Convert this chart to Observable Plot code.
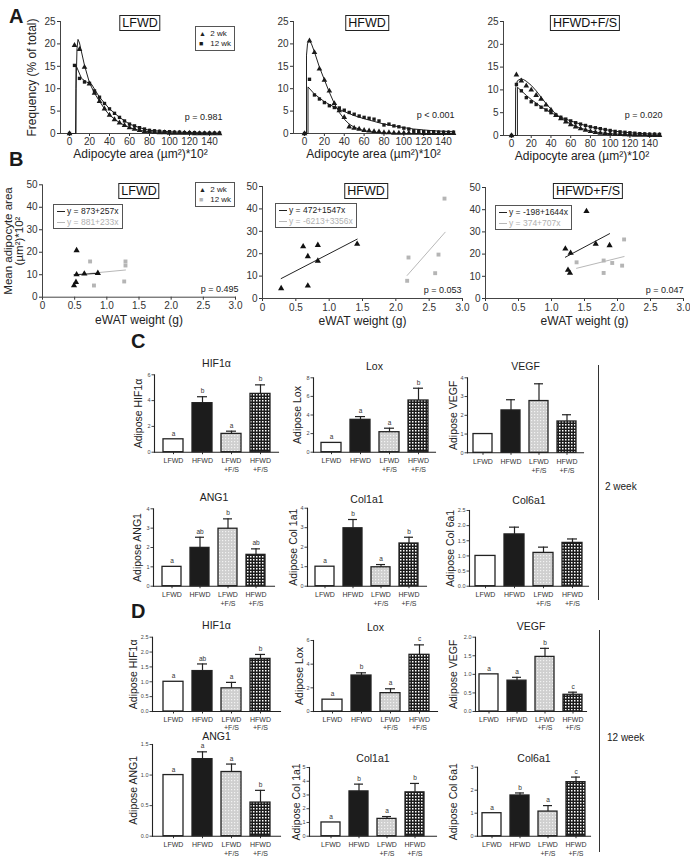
<!DOCTYPE html>
<html>
<head>
<meta charset="utf-8">
<script src="https://cdn.jsdelivr.net/npm/d3@7"></script>
<script src="https://cdn.jsdelivr.net/npm/@observablehq/plot@0.6"></script>
<style>
  body { margin: 0; background: #fff; font-family: "Liberation Sans", Arial, sans-serif; }
  #page { position: relative; width: 690px; height: 859px; overflow: hidden; background: #fff; }
  .ov { position: absolute; white-space: nowrap; color: #1a1a1a; line-height: 1; }
  .tbox { position: absolute; border: 1px solid #222; font-size: 12.5px; padding: 1px 2px 1px 2px; transform: translateX(-50%); color: #111; line-height: 12px; background: #fff; }
  .lbox { position: absolute; border: 1px solid #555; font-size: 8px; padding: 2px 3px; line-height: 9.5px; color: #222; background: #fff; }
  .vline { position: absolute; width: 1px; background: #333; }
</style>
</head>
<body>
<svg width="0" height="0" style="position:absolute">
  <defs>
    <pattern id="dots" width="3" height="3" patternUnits="userSpaceOnUse">
      <rect width="3" height="3" fill="#cfcfcf"/>
      <rect x="0" y="0" width="1.2" height="1.2" fill="#f2f2f2"/>
    </pattern>
    <pattern id="check" width="3" height="3" patternUnits="userSpaceOnUse">
      <rect width="3" height="3" fill="#1c1c1c"/>
      <rect x="1" y="1" width="1.5" height="1.5" fill="#ffffff"/>
    </pattern>
  </defs>
</svg>
<div id="page"></div>
<script>
// ---------------- DATA ----------------
// Panel A: size-distribution bins (x, 10^2 µm^2) and frequencies (% of total)
const aBins = [0,5,10,15,20,25,30,35,40,45,50,55,60,65,70,75,80,85,90,95,100,105,110,115,120,125,130,135,140,145,150];
const aLF2  = [0,19.7,18.8,14.8,11.1,9.0,7.2,5.5,4.1,3.1,2.4,1.8,1.3,1.0,0.7,0.5,0.4,0.3,0.2,0.2,0.1,0.1,0.1,0.1,0.1,0,0,0,0,0,0];
const aLF12 = [0,15.2,12.3,11.5,11.2,9.5,8.1,6.7,5.5,4.5,3.6,2.8,2.1,1.7,1.3,1.0,0.7,0.6,0.5,0.4,0.4,0.3,0.3,0.2,0.2,0.2,0.1,0.1,0.1,0.1,0.1];
const aHF2  = [0,20.7,18.1,14.4,11.9,9.5,6.7,5.1,3.6,1.5,1.2,1.0,0.7,0.6,0.45,0.4,0.2,0.2,0.1,0.1,0.1,0.1,0.1,0.1,0.05,0.05,0.05,0.05,0.05,0.05,0.05];
const aHF12 = [0,12.1,8.6,7.7,6.9,6.2,5.8,5.7,5.2,4.7,4.3,3.9,3.6,3.4,3.2,2.8,1.9,2.1,1.7,1.5,1.2,1.0,0.6,0.5,0.4,0.4,0.4,0.3,0.3,0.3,0.3];
const aFS2  = [0,13.3,12.0,10.9,10.0,8.8,8.0,6.7,5.6,4.4,3.7,3.0,2.4,1.9,1.5,1.2,0.9,0.7,0.55,0.45,0.35,0.3,0.25,0.2,0.15,0.1,0.1,0.1,0.05,0.05,0.05];
const aFS12 = [0,11.2,9.8,8.3,7.4,6.8,6.2,5.6,5.0,4.5,4.0,3.6,3.2,2.8,2.5,2.2,1.9,1.7,1.5,1.3,1.1,0.9,0.8,0.7,0.6,0.5,0.4,0.35,0.3,0.3,0.25];
// fitted curves
const fLF2x  = [0,6,6.5,7.5,8.5,10,12,15,20,25,30,35,40,50,60,70,80,100,120,150];
const fLF2y  = [0,0,10,19,21,20.2,18.2,15.2,11.3,9.0,7.2,5.5,4.1,2.4,1.3,0.7,0.4,0.15,0.05,0];
const fLF12x = [0,6.5,6.5,12,17,22,30,40,50,60,70,80,100,120,150];
const fLF12y = [0,0,15.2,12.3,11.5,11.0,8.1,5.5,3.6,2.1,1.3,0.7,0.4,0.2,0.1];
const fHF2x  = [0,2,2,3,4.5,7,10,15,20,25,30,35,40,45,50,60,70,80,100,150];
const fHF2y  = [0,0,17.5,20,20.8,20,18.2,14.8,12,9.2,6.7,4.7,3.2,2.1,1.4,0.6,0.3,0.1,0,0];
const fHF12x = [0,3.5,3.5,10,20,30,40,50,60,70,80,90,100,110,120,130,140,150];
const fHF12y = [0,0,10.4,8.8,7.1,5.9,4.9,4.0,3.3,2.7,2.1,1.7,1.3,1.0,0.8,0.6,0.5,0.4];
const fFS2x  = [0,4,4.2,6,9,12,15,20,25,30,35,40,45,50,60,70,80,90,100,120,150];
const fFS2y  = [0,0,10.5,12,12.4,12.3,11.9,11.0,9.8,8.4,7.0,5.8,4.7,3.8,2.5,1.6,1.0,0.6,0.4,0.15,0.05];
const fFS12x = [0,6,6,10,15,20,25,30,40,50,60,70,80,90,100,110,120,130,140,150];
const fFS12y = [0,0,10.6,9.8,8.8,7.9,7.1,6.3,5.0,4.0,3.2,2.5,1.9,1.5,1.1,0.8,0.6,0.45,0.35,0.3];
const aXTicks = [0,20,40,60,80,100,120,140];
const aYTicks = [0,5,10,15,20,25];

// Panel B: eWAT weight (g) vs mean adipocyte area (10^2 µm^2)
const bLF2x = [0.49,0.52,0.53,0.53,0.65,0.86], bLF2y = [5.2,6.7,20.8,10.1,10.4,10.7];
const bLF12x = [0.74,0.80,1.27,1.29,1.29], bLF12y = [15.9,5.2,7.0,15.9,14.1];
const bHF2x = [0.28,0.61,0.68,0.68,0.83,0.83,1.42], bHF2y = [4.5,23.2,18.8,5.7,23.8,16.8,24.3];
const bHF12x = [2.19,2.17,2.59,2.64,2.73], bHF12y = [18.3,7.9,11.3,19.6,44.6];
const bFS2x = [1.21,1.29,1.25,1.28,1.53,1.67,1.88], bFS2y = [22.4,20.5,12.8,11.5,39.3,24.6,23.9];
const bFS12x = [1.38,1.79,1.79,1.92,2.07,2.10], bFS12y = [16.3,17.1,11.5,16.0,14.8,26.6];
// regression line end points
const bLFfit2x = [0.49,0.86], bLFfit2y = [10.0,10.6];
const bLFfit12x = [0.74,1.29], bLFfit12y = [10.6,12.1];
const bHFfit2x = [0.28,1.42], bHFfit2y = [8.9,26.5];
const bHFfit12x = [2.17,2.74], bHFfit12y = [10.3,29.6];
const bFSfit2x = [1.21,1.88], bFSfit2y = [18.6,29.2];
const bFSfit12x = [1.38,2.10], bFSfit12y = [13.6,18.9];
const bXTicks = [0,0.5,1,1.5,2,2.5,3];
const bYTicks = [0,10,20,30,40,50];
const bEq2 = ["y = 873+257x","y = 472+1547x","y = -198+1644x"];
const bEq12 = ["y = 881+233x","y = -6213+3356x","y = 374+707x"];

// Panels C and D: relative expression (mean, mean+SEM, letters)
const groups = ["LFWD","HFWD","LFWD+F/S","HFWD+F/S"];
const groupTicks = ["LFWD","HFWD","LFWD\n+F/S","HFWD\n+F/S"];
const cHif = [1.0,3.8,1.42,4.52],  cHifErr = [1.0,4.3,1.63,5.22],  cHifLet = ["a","b","a","b"];
const cLox = [1.0,3.48,2.15,5.56], cLoxErr = [1.0,3.83,2.58,6.88], cLoxLet = ["a","a","a","b"];
const cVegf = [1.0,2.26,2.76,1.67], cVegfErr = [1.0,2.83,3.68,2.03], cVegfLet = ["","","",""];
const cAng = [1.0,1.98,2.97,1.62], cAngErr = [1.0,2.53,3.48,1.93], cAngLet = ["a","ab","b","ab"];
const cCol1 = [1.0,2.97,0.97,2.19], cCol1Err = [1.0,3.42,1.11,2.51], cCol1Let = ["a","b","a","b"];
const cCol6 = [1.0,1.71,1.10,1.43], cCol6Err = [1.0,1.95,1.29,1.56], cCol6Let = ["","","",""];
const dHif = [1.0,1.36,0.78,1.77], dHifErr = [1.0,1.60,0.98,1.92], dHifLet = ["a","ab","a","b"];
const dLox = [1.0,3.04,1.55,4.79], dLoxErr = [1.0,3.27,1.92,5.63], dLoxLet = ["a","b","a","c"];
const dVegf = [1.0,0.83,1.47,0.45], dVegfErr = [1.0,0.92,1.70,0.52], dVegfLet = ["a","a","b","c"];
const dAng = [1.0,1.26,1.05,0.55], dAngErr = [1.0,1.38,1.18,0.75], dAngLet = ["a","a","a","b"];
const dCol1 = [1.0,3.26,1.26,3.19], dCol1Err = [1.0,3.79,1.43,3.84], dCol1Let = ["a","b","a","b"];
const dCol6 = [1.0,1.77,1.07,2.35], dCol6Err = [1.0,1.88,1.33,2.57], dCol6Let = ["a","b","a","c"];

// ---------------- DRAWING ----------------
const PW = 690, PH = 859;
const FONT = "Liberation Sans, Arial, sans-serif";
const page = document.getElementById("page");
const rowsOf = (xs, ys) => xs.map((x, i) => ({x, y: ys[i]}));
const base = (f) => ({
  width: PW, height: PH,
  marginLeft: f[0], marginRight: PW - f[1], marginTop: f[2], marginBottom: PH - f[3],
  style: {background: "transparent", overflow: "visible", fontFamily: FONT, position: "absolute", left: "0px", top: "0px", color: "#1a1a1a"}
});
function add(el) { page.appendChild(el); }
function ov(text, css) {
  const d = document.createElement("div");
  d.className = "ov"; d.textContent = text;
  Object.assign(d.style, css); page.appendChild(d); return d;
}
function tbox(text, cx, top) {
  const d = document.createElement("div");
  d.className = "tbox"; d.textContent = text;
  d.style.left = cx + "px"; d.style.top = top + "px"; page.appendChild(d);
}

const aXLabel = "Adipocyte area (\u00b5m\u00b2)*10\u00b2";
const histCfg = [
  {frame: [60, 220, 21, 133], xdom: [-9, 151], s2: aLF2, s12: aLF12, f2x: fLF2x, f2y: fLF2y, f12x: fLF12x, f12y: fLF12y, p: "p = 0.981", pdx: 2, pdy: -16, ylab: true},
  {frame: [293, 453, 21, 133], xdom: [-11.1, 150], s2: aHF2, s12: aHF12, f2x: fHF2x, f2y: fHF2y, f12x: fHF12x, f12y: fHF12y, p: "p < 0.001", pdx: 1, pdy: -18},
  {frame: [503, 660, 21, 135], xdom: [-8.1, 151], s2: aFS2, s12: aFS12, f2x: fFS2x, f2y: fFS2y, f12x: fFS12x, f12y: fFS12y, p: "p = 0.020", pdx: 2, pdy: -20}
];
for (const c of histCfg) {
  const marks = [
    Plot.axisX({ticks: aXTicks, tickSize: 3, tickPadding: 1.5, fontSize: 10, label: null, color: "#333"}),
    Plot.axisY({ticks: aYTicks, tickSize: 3, tickPadding: 2, fontSize: 10, label: null, color: "#333"}),
    Plot.frame({anchor: "left", stroke: "#444"}),
    Plot.frame({anchor: "bottom", stroke: "#444"}),
    Plot.line(rowsOf(c.f12x, c.f12y), {x: "x", y: "y", stroke: "#222", strokeWidth: 1}),
    Plot.line(rowsOf(c.f2x, c.f2y), {x: "x", y: "y", stroke: "#222", strokeWidth: 1}),
    Plot.dot(rowsOf(aBins, c.s12), {x: "x", y: "y", symbol: "square", fill: "#1a1a1a", r: 1.9}),
    Plot.dot(rowsOf(aBins, c.s2), {x: "x", y: "y", symbol: "triangle", fill: "#1a1a1a", r: 2.1}),
    Plot.text([aXLabel], {frameAnchor: "bottom", dy: 21, fontSize: 12, lineAnchor: "middle", textAnchor: "middle", fill: "#222"}),
    Plot.text([c.p], {frameAnchor: "bottom-right", textAnchor: "end", lineAnchor: "middle", dx: c.pdx, dy: c.pdy, fontSize: 9, fill: "#222"})
  ];
  if (c.ylab) marks.push(Plot.text(["Frequency (% of total)"], {frameAnchor: "left", dx: -28, rotate: -90, textAnchor: "middle", lineAnchor: "middle", fontSize: 12, fill: "#222"}));
  add(Plot.plot({...base(c.frame), x: {domain: c.xdom}, y: {domain: [0, 25]}, marks}));
}

const scatCfg = [
  {frame: [42, 235, 184.3, 296.7], p2x: bLF2x, p2y: bLF2y, p12x: bLF12x, p12y: bLF12y, l2x: bLFfit2x, l2y: bLFfit2y, l12x: bLFfit12x, l12y: bLFfit12y, p: "p = 0.495", pdx: 3, ylab: true},
  {frame: [262, 462, 186, 298], p2x: bHF2x, p2y: bHF2y, p12x: bHF12x, p12y: bHF12y, l2x: bHFfit2x, l2y: bHFfit2y, l12x: bHFfit12x, l12y: bHFfit12y, p: "p = 0.053", pdx: -1},
  {frame: [485, 683, 187, 298], p2x: bFS2x, p2y: bFS2y, p12x: bFS12x, p12y: bFS12y, l2x: bFSfit2x, l2y: bFSfit2y, l12x: bFSfit12x, l12y: bFSfit12y, p: "p = 0.047", pdx: 0}
];
for (const c of scatCfg) {
  const marks = [
    Plot.axisX({ticks: bXTicks, tickSize: 3, tickPadding: 2, fontSize: 10, label: null, color: "#333", tickFormat: d => d === 0 ? "0" : d3.format(".1f")(d)}),
    Plot.axisY({ticks: bYTicks, tickSize: 3, tickPadding: 2, fontSize: 10, label: null, color: "#333"}),
    Plot.frame({anchor: "left", stroke: "#444"}),
    Plot.frame({anchor: "bottom", stroke: "#444"}),
    Plot.line(rowsOf(c.l12x, c.l12y), {x: "x", y: "y", stroke: "#b8b8b8", strokeWidth: 1}),
    Plot.line(rowsOf(c.l2x, c.l2y), {x: "x", y: "y", stroke: "#222", strokeWidth: 1}),
    Plot.dot(rowsOf(c.p12x, c.p12y), {x: "x", y: "y", symbol: "square", fill: "#b5b5b5", r: 2.2}),
    Plot.dot(rowsOf(c.p2x, c.p2y), {x: "x", y: "y", symbol: "triangle", fill: "#111", r: 2.3}),
    Plot.text(["eWAT weight (g)"], {frameAnchor: "bottom", dy: 23, fontSize: 12, lineAnchor: "middle", textAnchor: "middle", fill: "#222"}),
    Plot.text([c.p], {frameAnchor: "bottom-right", textAnchor: "end", lineAnchor: "middle", dx: c.pdx, dy: -8, fontSize: 9, fill: "#222"})
  ];
  if (c.ylab) marks.push(Plot.text(["Mean adipocyte area\n(\u00b5m\u00b2)*10\u00b2"], {frameAnchor: "left", dx: -28.5, rotate: -90, textAnchor: "middle", lineAnchor: "middle", lineHeight: 0.92, fontSize: 11.5, fill: "#222"}));
  add(Plot.plot({...base(c.frame), x: {domain: [0, 3]}, y: {domain: [0, 50]}, marks}));
}

const groupFills = ["#ffffff", "#1c1c1c", "url(#dots)", "url(#check)"];
const fmt1 = d3.format(".1f");
const fmt0 = d => String(d);
const barCfg = [
  {title: "HIF1\u03b1", ylab: "Adipose HIF1\u03b1", v: cHif, e: cHifErr, l: cHifLet, ydom: [0, 6], ticks: [0,2,4,6], fmt: fmt0, frame: [154, 278, 374.3, 451.7], po: 0.27, tdy: -11, ldx: -16, lh: 1.3},
  {title: "Lox", ylab: "Adipose Lox", v: cLox, e: cLoxErr, l: cLoxLet, ydom: [0, 8], ticks: [0,2,4,6,8], fmt: fmt0, frame: [313, 435, 377.3, 451.7], po: 0.24, tdy: -11, ldx: -16, lh: 1.3},
  {title: "VEGF", ylab: "Adipose VEGF", v: cVegf, e: cVegfErr, l: cVegfLet, ydom: [0, 4], ticks: [0,1,2,3,4], fmt: fmt0, frame: [467, 583, 377.3, 452.3], po: 0.21, tdy: -11, ldx: -14, lh: 1.3},
  {title: "ANG1", ylab: "Adipose ANG1", v: cAng, e: cAngErr, l: cAngLet, ydom: [0, 4], ticks: [0,1,2,3,4], fmt: fmt0, frame: [153, 274, 508.3, 585.7], po: 0.32, tdy: -11, ldx: -16, lh: 1.3},
  {title: "Col1a1", ylab: "Adipose Col 1a1", v: cCol1, e: cCol1Err, l: cCol1Let, ydom: [0, 4], ticks: [0,1,2,3,4], fmt: fmt0, frame: [307, 426, 507.7, 585.7], po: 0.25, tdy: -9, ldx: -14, lh: 1.3},
  {title: "Col6a1", ylab: "Adipose Col 6a1", v: cCol6, e: cCol6Err, l: cCol6Let, ydom: [0, 2.5], ticks: [0,0.5,1,1.5,2,2.5], fmt: fmt1, frame: [469, 588, 510, 585.7], po: 0.2, tdy: -10, ldx: -19, lh: 1.3},
  {title: "HIF1\u03b1", ylab: "Adipose HIF1\u03b1", v: dHif, e: dHifErr, l: dHifLet, ydom: [0, 2.5], ticks: [0,0.5,1,1.5,2,2.5], fmt: fmt1, frame: [152, 280, 636.7, 711], po: 0.33, tdy: -12, ldx: -19, lh: 1.15},
  {title: "Lox", ylab: "Adipose Lox", v: dLox, e: dLoxErr, l: dLoxLet, ydom: [0, 6], ticks: [0,2,4,6], fmt: fmt0, frame: [313, 437, 640, 711], po: 0.23, tdy: -13, ldx: -14, lh: 1.2},
  {title: "VEGF", ylab: "Adipose VEGF", v: dVegf, e: dVegfErr, l: dVegfLet, ydom: [0, 2], ticks: [0,0.5,1,1.5,2], fmt: fmt1, frame: [475, 586, 636.7, 711], po: 0.1, tdy: -11, ldx: -22, lh: 1.2},
  {title: "ANG1", ylab: "Adipose ANG1", v: dAng, e: dAngErr, l: dAngLet, ydom: [0, 1.5], ticks: [0,0.5,1,1.5], fmt: fmt1, frame: [152, 280, 744, 835.7], po: 0.33, tdy: -7.5, ldx: -19, lh: 1.3},
  {title: "Col1a1", ylab: "Adipose Col 1a1", v: dCol1, e: dCol1Err, l: dCol1Let, ydom: [0, 5], ticks: [0,1,2,3,4,5], fmt: fmt0, frame: [309, 436, 767, 835.7], po: 0.36, tdy: -9, ldx: -13, lh: 1.3},
  {title: "Col6a1", ylab: "Adipose Col 6a1", v: dCol6, e: dCol6Err, l: dCol6Let, ydom: [0, 3], ticks: [0,1,2,3], fmt: fmt0, frame: [477, 590, 766.7, 835.7], po: 0.14, tdy: -9, ldx: -24, lh: 1.3}
];
for (const c of barCfg) {
  const rows = groups.map((g, i) => ({g, v: c.v[i], e: c.e[i], l: c.l[i]}));
  const marks = [];
  rows.forEach((r, i) => {
    marks.push(Plot.barY([r], {x: "g", y: "v", fill: groupFills[i], stroke: "#222", strokeWidth: 1.3}));
  });
  const withErr = rows.filter(r => r.e > r.v);
  marks.push(
    Plot.ruleX(withErr, {x: "g", y1: "v", y2: "e", stroke: "#222", strokeWidth: 1.2}),
    Plot.tickY(withErr, {x: "g", y: "e", stroke: "#222", strokeWidth: 1.2, insetLeft: 5, insetRight: 5}),
    Plot.text(rows.filter(r => r.l), {x: "g", y: "e", text: "l", dy: -5.5, fontSize: 6.5, fill: "#333"}),
    Plot.axisY({ticks: c.ticks, tickFormat: c.fmt, tickSize: 2.5, tickPadding: 1.5, fontSize: 5.5, label: null, color: "#444"}),
    Plot.axisX({tickSize: 2.5, tickPadding: 2, fontSize: 7, lineHeight: c.lh, label: null, color: "#333", tickFormat: d => groupTicks[groups.indexOf(d)]}),
    Plot.frame({anchor: "left", stroke: "#222", strokeWidth: 1.1}),
    Plot.frame({anchor: "bottom", stroke: "#222", strokeWidth: 1.1}),
    Plot.text([c.title], {frameAnchor: "top", dy: c.tdy, fontSize: 10.5, lineAnchor: "middle", textAnchor: "middle", fill: "#222"}),
    Plot.text([c.ylab], {frameAnchor: "left", dx: c.ldx, rotate: -90, fontSize: 10.5, lineAnchor: "middle", textAnchor: "middle", fill: "#222"})
  );
  add(Plot.plot({...base(c.frame), x: {domain: groups, paddingInner: 0.32, paddingOuter: c.po}, y: {domain: c.ydom}, marks}));
}

// ---------------- ANNOTATIONS ----------------
ov("A", {left: "9px", top: "6px", fontSize: "20px", fontWeight: "bold"});
ov("B", {left: "9px", top: "149px", fontSize: "20px", fontWeight: "bold"});
ov("C", {left: "131px", top: "331px", fontSize: "20px", fontWeight: "bold"});
ov("D", {left: "131px", top: "601px", fontSize: "20px", fontWeight: "bold"});

const aTitles = ["LFWD", "HFWD", "HFWD+F/S"];
tbox(aTitles[0], 140, 15); tbox(aTitles[1], 367, 15); tbox(aTitles[2], 585, 15);
tbox(aTitles[0], 139, 183); tbox(aTitles[1], 366, 183); tbox(aTitles[2], 588, 183);

function legend(left, top, sqColor) {
  const d = document.createElement("div");
  d.className = "lbox";
  d.style.left = left + "px"; d.style.top = top + "px";
  d.innerHTML = '<div><span style="display:inline-block;width:9px;font-size:7px">\u25b2</span>&nbsp;2 wk</div>' +
    '<div><span style="display:inline-block;width:9px;font-size:7px;color:' + sqColor + '">\u25a0</span>&nbsp;12 wk</div>';
  page.appendChild(d);
}
legend(195, 26, "#1a1a1a");
legend(195, 182, "#b5b5b5");

function eqBox(left, top, i) {
  const d = document.createElement("div");
  d.className = "lbox";
  d.style.left = left + "px"; d.style.top = top + "px"; d.style.fontSize = "8.5px"; d.style.lineHeight = "10.5px"; d.style.padding = "1px 3px";
  d.innerHTML = '<div style="color:#222"><span style="display:inline-block;width:8px;height:1px;background:#222;vertical-align:middle;margin-right:2px"></span>' + bEq2[i] + '</div>' +
    '<div style="color:#b0b0b0"><span style="display:inline-block;width:8px;height:1px;background:#b8b8b8;vertical-align:middle;margin-right:2px"></span>' + bEq12[i] + '</div>';
  page.appendChild(d);
}
eqBox(53, 204, 0); eqBox(275, 203, 1); eqBox(495, 205, 2);

const v1 = document.createElement("div"); v1.className = "vline";
Object.assign(v1.style, {left: "598px", top: "365px", height: "235px"}); page.appendChild(v1);
const v2 = document.createElement("div"); v2.className = "vline";
Object.assign(v2.style, {left: "599px", top: "630px", height: "222px"}); page.appendChild(v2);
ov("2 week", {left: "605px", top: "482px", fontSize: "10px"});
ov("12 week", {left: "607px", top: "733px", fontSize: "10px"});
</script>
</body>
</html>
